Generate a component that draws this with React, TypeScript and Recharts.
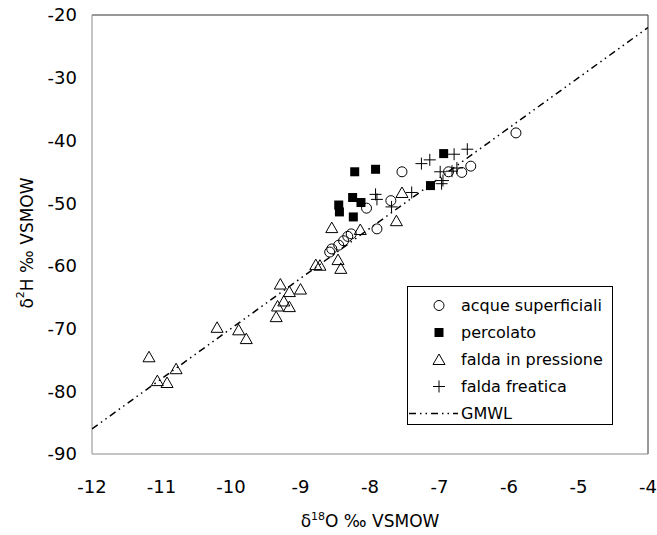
import React from "react";
import {
  ScatterChart,
  Scatter,
  XAxis,
  YAxis,
  ReferenceLine,
  Legend,
} from "recharts";

const FONT = "'DejaVu Sans', Verdana, sans-serif";

const xTicks = [-12, -11, -10, -9, -8, -7, -6, -5, -4];
const yTicks = [-90, -80, -70, -60, -50, -40, -30, -20];

// acque superficiali
const acqueX = [-8.58, -8.55, -8.45, -8.38, -8.32, -8.27, -8.05, -7.9, -7.7, -7.54, -6.87, -6.68, -6.55, -5.9];
const acqueY = [-57.8, -57.3, -56.7, -56.0, -55.3, -54.9, -50.8, -54.1, -49.6, -45.0, -45.0, -45.1, -44.1, -38.8];

// percolato
const percX = [-8.45, -8.44, -8.25, -8.13, -8.24, -8.22, -7.92, -7.13, -6.94];
const percY = [-50.3, -51.4, -49.1, -49.9, -52.2, -45.0, -44.6, -47.2, -42.1];

// falda in pressione
const pressX = [-11.18, -10.79, -11.06, -10.92, -10.2, -9.89, -9.78, -9.29, -9.16, -9.0, -9.24, -9.33, -9.16, -9.35, -8.78, -8.72, -8.46, -8.42, -8.55, -8.14, -7.62, -7.54];
const pressY = [-74.5, -76.4, -78.3, -78.6, -69.8, -70.2, -71.6, -62.9, -64.1, -63.7, -65.6, -66.4, -66.5, -68.1, -59.8, -59.9, -59.0, -60.4, -53.9, -54.2, -52.8, -48.3];

// falda freatica
const freatX = [-7.92, -7.9, -7.69, -7.4, -7.26, -7.14, -6.99, -6.97, -6.95, -6.82, -6.75, -6.79, -6.6];
const freatY = [-48.6, -49.4, -50.6, -48.3, -43.7, -43.1, -45.0, -46.9, -46.4, -44.9, -44.4, -42.2, -41.4];

// GMWL: d2H = 8 d18O + 10
const gmwlX = [-12, -4];
const gmwlY = [-86, -22];

const toPts = (xs: number[], ys: number[]) => xs.map((x, i) => ({ x, y: ys[i] }));

const GMWL_DASH = "7 4 1.5 4 1.5 4";

const Circle = ({ cx, cy }: any) => (
  <circle cx={cx} cy={cy} r={5} fill="none" stroke="#000" strokeWidth={1} />
);
const Square = ({ cx, cy }: any) => (
  <rect x={cx - 4.5} y={cy - 4.5} width={9} height={9} fill="#000" />
);
const Triangle = ({ cx, cy }: any) => (
  <polygon
    points={`${cx},${cy - 5.5} ${cx - 6},${cy + 5} ${cx + 6},${cy + 5}`}
    fill="none"
    stroke="#000"
    strokeWidth={1}
  />
);
const Plus = ({ cx, cy }: any) => (
  <path d={`M${cx - 6},${cy}H${cx + 6}M${cx},${cy - 6}V${cy + 6}`} stroke="#000" strokeWidth={1} fill="none" />
);

const legendRows = [
  { name: "acque superficiali", kind: "circle" },
  { name: "percolato", kind: "square" },
  { name: "falda in pressione", kind: "triangle" },
  { name: "falda freatica", kind: "plus" },
  { name: "GMWL", kind: "line" },
];

const LegendBox = () => (
  <div
    style={{
      width: 206,
      height: 139,
      border: "1px solid #000",
      background: "#fff",
      boxSizing: "border-box",
      paddingTop: 5,
      fontFamily: FONT,
      fontSize: 16,
      color: "#000",
    }}
  >
    {legendRows.map((r) => (
      <div key={r.name} style={{ display: "flex", alignItems: "center", height: 27 }}>
        <svg width={53} height={27} style={{ flex: "none" }}>
          {r.kind === "circle" && <Circle cx={31} cy={13.5} />}
          {r.kind === "square" && <Square cx={31} cy={13.5} />}
          {r.kind === "triangle" && <Triangle cx={31} cy={13.5} />}
          {r.kind === "plus" && <Plus cx={31} cy={13.5} />}
          {r.kind === "line" && (
            <line x1={1} y1={13.5} x2={50} y2={13.5} stroke="#000" strokeWidth={1.5} strokeDasharray={GMWL_DASH} />
          )}
        </svg>
        <span style={{ whiteSpace: "nowrap" }}>{r.name}</span>
      </div>
    ))}
  </div>
);

const XTitle = ({ viewBox }: any) => {
  const cx = viewBox.x + viewBox.width / 2;
  return (
    <text x={cx} y={527} textAnchor="middle" fontFamily={FONT} fontSize={17} fill="#000">
      δ<tspan dy={-7} fontSize={11}>18</tspan>
      <tspan dy={7}>O ‰ VSMOW</tspan>
    </text>
  );
};

const YTitle = () => (
  <text
    x={27}
    y={243}
    transform="rotate(-90, 27, 243)"
    textAnchor="middle"
    dominantBaseline="central"
    fontFamily={FONT}
    fontSize={17}
    fill="#000"
  >
    δ<tspan dy={-7} fontSize={11}>2</tspan>
    <tspan dy={7}>H ‰ VSMOW</tspan>
  </text>
);

export default function App() {
  return (
    <div style={{ position: "absolute", left: 0, top: 0, background: "#fff" }}>
      <ScatterChart
        width={657}
        height={535}
        margin={{ top: 15, right: 9, bottom: 0, left: 0 }}
      >
        <XAxis
          type="number"
          dataKey="x"
          domain={[-12, -4]}
          ticks={xTicks}
          allowDataOverflow
          height={81}
          tickLine={false}
          tickSize={6}
          tickMargin={20}
          axisLine={{ stroke: "#8a8a8a" }}
          tick={{ fill: "#000", fontSize: 18, fontFamily: FONT }}
          label={{ content: XTitle }}
        />
        <YAxis
          type="number"
          dataKey="y"
          domain={[-90, -20]}
          ticks={yTicks}
          allowDataOverflow
          width={92}
          tickLine={false}
          tickSize={6}
          tickMargin={9}
          axisLine={{ stroke: "#8a8a8a" }}
          tick={{ fill: "#000", fontSize: 18, fontFamily: FONT }}
          label={{ content: YTitle }}
        />
        <ReferenceLine y={-20} stroke="#333" strokeWidth={1} />
        <ReferenceLine x={-4} stroke="#333" strokeWidth={1} />
        <Scatter
          name="GMWL"
          data={toPts(gmwlX, gmwlY)}
          line={{ stroke: "#000", strokeWidth: 1.5, strokeDasharray: GMWL_DASH }}
          shape={() => null}
          isAnimationActive={false}
        />
        <Scatter name="falda in pressione" data={toPts(pressX, pressY)} shape={Triangle} isAnimationActive={false} />
        <Scatter name="acque superficiali" data={toPts(acqueX, acqueY)} shape={Circle} isAnimationActive={false} />
        <Scatter name="falda freatica" data={toPts(freatX, freatY)} shape={Plus} isAnimationActive={false} />
        <Scatter name="percolato" data={toPts(percX, percY)} shape={Square} isAnimationActive={false} />
        <Legend
          layout="vertical"
          align="center"
          verticalAlign="middle"
          content={LegendBox}
          wrapperStyle={{ left: 407, top: 286, width: 206, height: 139 }}
        />
      </ScatterChart>
    </div>
  );
}
